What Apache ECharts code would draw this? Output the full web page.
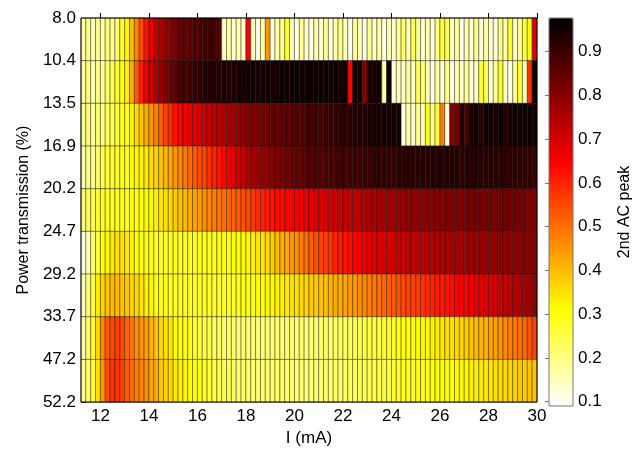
<!DOCTYPE html>
<html>
<head>
<meta charset="utf-8">
<title>2nd AC peak map</title>
<script src="https://cdn.jsdelivr.net/npm/echarts@6/dist/echarts.min.js"></script>
<style>
    html, body { margin: 0; padding: 0; background: #fff; }
    #chart { width: 638px; height: 452px; }
</style>
</head>
<body>
<div id="chart"></div>
<script>
// cell edges along the current axis (mA), one more than cells per row
var currentEdges = [
    11.2, 11.4, 11.6, 11.8, 12.0, 12.2, 12.4, 12.6, 12.8, 13.0,
    13.2, 13.4, 13.6, 13.8, 14.0, 14.2, 14.4, 14.6, 14.8, 15.0,
    15.2, 15.4, 15.6, 15.8, 16.0, 16.2, 16.4, 16.6, 16.8, 17.0,
    17.2, 17.4, 17.6, 17.8, 18.0, 18.2, 18.4, 18.6, 18.8, 19.0,
    19.2, 19.4, 19.6, 19.8, 20.0, 20.2, 20.4, 20.6, 20.8, 21.0,
    21.2, 21.4, 21.6, 21.8, 22.0, 22.2, 22.4, 22.6, 22.8, 23.0,
    23.2, 23.4, 23.6, 23.8, 24.0, 24.2, 24.4, 24.6, 24.8, 25.0,
    25.2, 25.4, 25.6, 25.8, 26.0, 26.2, 26.4, 26.6, 26.8, 27.0,
    27.2, 27.4, 27.6, 27.8, 28.0, 28.2, 28.4, 28.6, 28.8, 29.0,
    29.2, 29.4, 29.6, 29.8, 30.0
];

// row boundaries, power transmission (%)
var powerLabels = ['8.0', '10.4', '13.5', '16.9', '20.2', '24.7', '29.2', '33.7', '47.2', '52.2'];

var currentTicks = [12, 14, 16, 18, 20, 22, 24, 26, 28, 30];
var peakTicks = [0.1, 0.2, 0.3, 0.4, 0.5, 0.6, 0.7, 0.8, 0.9];

// 2nd AC peak, one array per row (top to bottom)
var peak8_0 = [
    0.16, 0.20, 0.15, 0.19, 0.17, 0.21, 0.18, 0.22, 0.27, 0.32,
    0.40, 0.47, 0.55, 0.62, 0.67, 0.72, 0.75, 0.78, 0.80, 0.82,
    0.84, 0.85, 0.86, 0.87, 0.88, 0.88, 0.89, 0.88, 0.87, 0.14,
    0.18, 0.12, 0.17, 0.13, 0.65, 0.15, 0.11, 0.17, 0.45, 0.13,
    0.16, 0.19, 0.28, 0.15, 0.12, 0.18, 0.14, 0.11, 0.17, 0.13,
    0.19, 0.12, 0.16, 0.20, 0.14, 0.11, 0.18, 0.15, 0.12, 0.19,
    0.14, 0.17, 0.11, 0.16, 0.13, 0.18, 0.22, 0.15, 0.24, 0.19,
    0.13, 0.17, 0.12, 0.20, 0.26, 0.24, 0.14, 0.18, 0.11, 0.16,
    0.13, 0.19, 0.12, 0.17, 0.14, 0.11, 0.20, 0.15, 0.28, 0.13,
    0.18, 0.27, 0.30, 0.68
];
var peak10_4 = [
    0.17, 0.21, 0.16, 0.20, 0.18, 0.22, 0.24, 0.28, 0.30, 0.33,
    0.42, 0.53, 0.61, 0.66, 0.71, 0.75, 0.78, 0.81, 0.84, 0.86,
    0.88, 0.89, 0.90, 0.91, 0.92, 0.92, 0.93, 0.93, 0.93, 0.94,
    0.93, 0.94, 0.94, 0.95, 0.94, 0.95, 0.94, 0.95, 0.95, 0.94,
    0.95, 0.96, 0.95, 0.95, 0.96, 0.95, 0.96, 0.96, 0.95, 0.96,
    0.96, 0.95, 0.96, 0.95, 0.96, 0.64, 0.96, 0.95, 0.80, 0.95,
    0.94, 0.95, 0.17, 0.97, 0.12, 0.16, 0.13, 0.18, 0.14, 0.24,
    0.22, 0.15, 0.12, 0.17, 0.13, 0.19, 0.11, 0.16, 0.14, 0.18,
    0.12, 0.15, 0.27, 0.25, 0.13, 0.17, 0.28, 0.14, 0.11, 0.19,
    0.27, 0.16, 0.58, 0.95
];
var peak13_5 = [
    0.18, 0.21, 0.17, 0.22, 0.20, 0.23, 0.24, 0.26, 0.29, 0.31,
    0.33, 0.36, 0.39, 0.42, 0.45, 0.48, 0.52, 0.56, 0.59, 0.62,
    0.64, 0.66, 0.67, 0.68, 0.70, 0.71, 0.72, 0.73, 0.74, 0.75,
    0.76, 0.77, 0.78, 0.79, 0.80, 0.81, 0.81, 0.82, 0.83, 0.84,
    0.84, 0.85, 0.86, 0.86, 0.87, 0.87, 0.88, 0.88, 0.89, 0.89,
    0.90, 0.90, 0.91, 0.91, 0.92, 0.92, 0.93, 0.93, 0.93, 0.94,
    0.94, 0.94, 0.95, 0.95, 0.95, 0.95, 0.11, 0.17, 0.13, 0.19,
    0.15, 0.29, 0.20, 0.25, 0.48, 0.11, 0.80, 0.82, 0.93, 0.88,
    0.94, 0.95, 0.93, 0.96, 0.95, 0.94, 0.96, 0.92, 0.95, 0.96,
    0.95, 0.96, 0.96, 0.95
];
var peak16_9 = [
    0.16, 0.20, 0.18, 0.22, 0.24, 0.26, 0.27, 0.28, 0.29, 0.30,
    0.31, 0.32, 0.33, 0.34, 0.36, 0.37, 0.39, 0.41, 0.43, 0.45,
    0.47, 0.49, 0.51, 0.53, 0.55, 0.56, 0.58, 0.60, 0.62, 0.64,
    0.66, 0.68, 0.70, 0.72, 0.74, 0.76, 0.77, 0.78, 0.79, 0.80,
    0.81, 0.82, 0.83, 0.84, 0.85, 0.85, 0.86, 0.86, 0.87, 0.87,
    0.88, 0.88, 0.88, 0.89, 0.89, 0.89, 0.90, 0.90, 0.90, 0.90,
    0.91, 0.91, 0.91, 0.91, 0.91, 0.92, 0.92, 0.92, 0.92, 0.92,
    0.93, 0.92, 0.93, 0.93, 0.92, 0.93, 0.93, 0.93, 0.92, 0.93,
    0.93, 0.93, 0.93, 0.92, 0.93, 0.92, 0.92, 0.92, 0.91, 0.92,
    0.91, 0.91, 0.91, 0.90
];
var peak20_2 = [
    0.20, 0.23, 0.26, 0.27, 0.28, 0.28, 0.29, 0.29, 0.29, 0.30,
    0.30, 0.30, 0.31, 0.31, 0.32, 0.33, 0.34, 0.35, 0.36, 0.38,
    0.39, 0.40, 0.42, 0.43, 0.44, 0.46, 0.47, 0.48, 0.49, 0.50,
    0.51, 0.52, 0.53, 0.54, 0.55, 0.57, 0.59, 0.60, 0.61, 0.62,
    0.63, 0.63, 0.64, 0.65, 0.65, 0.66, 0.67, 0.67, 0.68, 0.69,
    0.69, 0.70, 0.71, 0.71, 0.72, 0.73, 0.73, 0.74, 0.74, 0.75,
    0.75, 0.76, 0.76, 0.77, 0.77, 0.78, 0.78, 0.78, 0.79, 0.79,
    0.79, 0.80, 0.80, 0.80, 0.80, 0.81, 0.81, 0.81, 0.81, 0.82,
    0.82, 0.82, 0.82, 0.82, 0.83, 0.82, 0.83, 0.83, 0.82, 0.83,
    0.82, 0.82, 0.81, 0.81
];
var peak24_7 = [
    0.11, 0.15, 0.22, 0.26, 0.30, 0.32, 0.34, 0.35, 0.35, 0.34,
    0.33, 0.31, 0.30, 0.29, 0.29, 0.29, 0.28, 0.28, 0.28, 0.28,
    0.28, 0.28, 0.28, 0.28, 0.29, 0.29, 0.29, 0.29, 0.30, 0.30,
    0.30, 0.31, 0.31, 0.32, 0.32, 0.33, 0.34, 0.35, 0.36, 0.38,
    0.40, 0.42, 0.43, 0.45, 0.46, 0.48, 0.50, 0.52, 0.54, 0.56,
    0.57, 0.58, 0.60, 0.61, 0.62, 0.63, 0.64, 0.65, 0.66, 0.67,
    0.68, 0.68, 0.69, 0.69, 0.70, 0.71, 0.71, 0.72, 0.72, 0.73,
    0.73, 0.74, 0.74, 0.75, 0.75, 0.75, 0.76, 0.76, 0.76, 0.77,
    0.77, 0.77, 0.78, 0.78, 0.78, 0.78, 0.79, 0.79, 0.79, 0.79,
    0.79, 0.80, 0.80, 0.80
];
var peak29_2 = [
    0.14, 0.21, 0.27, 0.33, 0.37, 0.39, 0.40, 0.40, 0.39, 0.38,
    0.37, 0.36, 0.35, 0.33, 0.32, 0.31, 0.30, 0.29, 0.29, 0.28,
    0.28, 0.28, 0.28, 0.28, 0.28, 0.28, 0.28, 0.28, 0.28, 0.28,
    0.28, 0.28, 0.29, 0.29, 0.30, 0.30, 0.31, 0.31, 0.32, 0.32,
    0.33, 0.33, 0.34, 0.35, 0.35, 0.36, 0.37, 0.38, 0.38, 0.39,
    0.40, 0.41, 0.42, 0.42, 0.43, 0.44, 0.45, 0.46, 0.47, 0.48,
    0.49, 0.50, 0.51, 0.52, 0.53, 0.54, 0.55, 0.56, 0.56, 0.57,
    0.58, 0.59, 0.60, 0.61, 0.61, 0.62, 0.63, 0.64, 0.65, 0.65,
    0.66, 0.67, 0.68, 0.69, 0.69, 0.70, 0.71, 0.72, 0.73, 0.74,
    0.75, 0.76, 0.77, 0.79
];
var peak33_7 = [
    0.16, 0.22, 0.29, 0.36, 0.47, 0.53, 0.55, 0.56, 0.55, 0.51,
    0.49, 0.46, 0.45, 0.44, 0.41, 0.39, 0.36, 0.35, 0.34, 0.31,
    0.30, 0.30, 0.29, 0.27, 0.26, 0.25, 0.24, 0.23, 0.23, 0.22,
    0.22, 0.22, 0.21, 0.21, 0.21, 0.21, 0.21, 0.21, 0.21, 0.21,
    0.21, 0.21, 0.21, 0.21, 0.21, 0.21, 0.21, 0.21, 0.21, 0.22,
    0.22, 0.22, 0.22, 0.23, 0.23, 0.23, 0.24, 0.24, 0.25, 0.25,
    0.26, 0.26, 0.27, 0.28, 0.28, 0.29, 0.30, 0.30, 0.31, 0.31,
    0.32, 0.32, 0.33, 0.33, 0.34, 0.35, 0.35, 0.36, 0.37, 0.38,
    0.39, 0.40, 0.41, 0.42, 0.43, 0.44, 0.45, 0.47, 0.48, 0.49,
    0.50, 0.51, 0.54, 0.56
];
var peak47_2 = [
    0.18, 0.22, 0.28, 0.35, 0.45, 0.55, 0.58, 0.58, 0.56, 0.52,
    0.50, 0.48, 0.47, 0.46, 0.43, 0.42, 0.38, 0.37, 0.36, 0.34,
    0.33, 0.32, 0.31, 0.30, 0.29, 0.28, 0.27, 0.26, 0.25, 0.24,
    0.24, 0.23, 0.22, 0.22, 0.22, 0.22, 0.22, 0.22, 0.22, 0.22,
    0.22, 0.22, 0.22, 0.22, 0.21, 0.21, 0.21, 0.21, 0.21, 0.21,
    0.22, 0.22, 0.22, 0.22, 0.23, 0.23, 0.23, 0.24, 0.24, 0.24,
    0.25, 0.25, 0.26, 0.26, 0.27, 0.27, 0.28, 0.28, 0.28, 0.29,
    0.29, 0.29, 0.30, 0.30, 0.30, 0.31, 0.31, 0.32, 0.32, 0.32,
    0.33, 0.33, 0.34, 0.34, 0.35, 0.35, 0.36, 0.36, 0.37, 0.37,
    0.38, 0.38, 0.39, 0.39
];

var peakRows = [peak8_0, peak10_4, peak13_5, peak16_9, peak20_2,
                peak24_7, peak29_2, peak33_7, peak47_2];

// flipped "hot" colormap, evenly spaced stops
var hotColors = ['#ffffff', '#ffff80', '#ffff00', '#ffaa00', '#ff5500',
                 '#ff0000', '#aa0000', '#550000', '#000000'];

var font = 'Liberation Sans, Arial, sans-serif';

var cells = [];
for (var r = 0; r < peakRows.length; r++) {
    for (var i = 0; i < peakRows[r].length; i++) {
        cells.push([currentEdges[i], r, peakRows[r][i], currentEdges[i + 1]]);
    }
}

function renderCell(params, api) {
    var p0 = api.coord([api.value(0), api.value(1)]);
    var p1 = api.coord([api.value(3), api.value(1) + 1]);
    return {
        type: 'rect',
        shape: { x: p0[0], y: p0[1], width: p1[0] - p0[0], height: p1[1] - p0[1] },
        style: { fill: api.visual('color'), stroke: 'rgba(0,0,0,0.55)', lineWidth: 0.7 }
    };
}

var chart = echarts.init(document.getElementById('chart'), null, { renderer: 'canvas' });

var option = {
    animation: false,
    backgroundColor: '#fff',
    grid: [{
        left: 81, top: 18, width: 456, height: 388,
        show: true, borderColor: '#000', borderWidth: 1, z: 10
    }, {
        left: 549, top: 18, width: 24, height: 388,
        show: true, borderColor: '#777', borderWidth: 1, z: 10
    }],
    xAxis: [{
        type: 'value', gridIndex: 0, min: 11.2, max: 30,
        name: 'I (mA)', nameLocation: 'middle', nameGap: 27,
        nameTextStyle: { fontFamily: font, fontSize: 17, color: '#000' },
        axisLine: { show: false },
        axisTick: { show: true, inside: true, length: 5, customValues: currentTicks, lineStyle: { color: '#000' } },
        axisLabel: { customValues: currentTicks, fontFamily: font, fontSize: 17, color: '#000', margin: 6 },
        splitLine: { show: false }
    }, {
        type: 'value', gridIndex: 1, min: 0, max: 1, show: false
    }],
    yAxis: [{
        type: 'value', gridIndex: 0, min: 0, max: 9, interval: 1, inverse: true,
        name: 'Power transmission (%)', nameLocation: 'middle', nameGap: 46, nameRotate: 90,
        nameTextStyle: { fontFamily: font, fontSize: 16, color: '#000' },
        axisLine: { show: false },
        axisTick: { show: true, inside: true, length: 5, lineStyle: { color: '#000' } },
        axisLabel: {
            fontFamily: font, fontSize: 17, color: '#000', margin: 5,
            formatter: function (v) { return powerLabels[v]; }
        },
        splitLine: { show: false }
    }, {
        type: 'value', gridIndex: 1, min: 0.09, max: 0.977, position: 'right', z: 10,
        name: '2nd AC peak', nameLocation: 'middle', nameGap: 44, nameRotate: 90,
        nameTextStyle: { fontFamily: font, fontSize: 16, color: '#000' },
        axisLine: { show: false },
        axisTick: { show: true, inside: true, length: 4, customValues: peakTicks, lineStyle: { color: '#777' } },
        axisLabel: {
            customValues: peakTicks, fontFamily: font, fontSize: 17, color: '#000', margin: 5,
            formatter: function (v) { return v.toFixed(1); }
        },
        splitLine: { show: false }
    }],
    visualMap: {
        type: 'continuous', seriesIndex: 0, dimension: 2,
        min: 0.09, max: 0.977,
        calculable: false, hoverLink: false,
        left: 549, top: 18, itemWidth: 24, itemHeight: 388, padding: 0,
        inRange: { color: hotColors }
    },
    series: [{
        type: 'custom',
        xAxisIndex: 0, yAxisIndex: 0,
        renderItem: renderCell,
        encode: { x: [0, 3], y: 1 },
        data: cells
    }]
};

chart.setOption(option);
</script>
</body>
</html>
